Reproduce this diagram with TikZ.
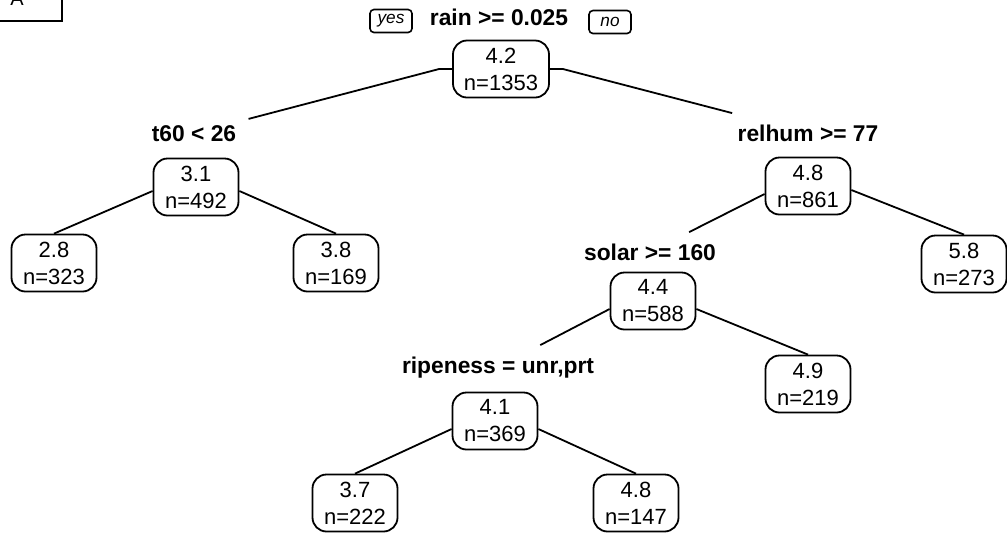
\documentclass[tikz,border=0pt]{standalone}
\usepackage{fontspec}
\setmainfont{Liberation Sans}
\usepackage{tikz}
\usetikzlibrary{positioning, calc}
\tikzset{
  tree_node/.style={rectangle, draw=black, line width=0.9pt, rounded corners=7pt, align=center, inner xsep=5.5pt, inner ysep=3pt, minimum width=42.5pt, minimum height=28.5pt, font=\fontsize{11}{13.5}\selectfont},
  split_label/.style={anchor=base, inner xsep=6pt, inner ysep=5.5pt, font=\fontsize{11.4}{13}\selectfont\bfseries},
  answer_box/.style={rectangle, draw=black, line width=0.8pt, rounded corners=2pt, minimum width=21pt, minimum height=11.5pt, inner sep=1pt, font=\fontsize{8.6}{10}\selectfont\itshape},
  panel_box/.style={rectangle, draw=black, line width=0.9pt, minimum width=40pt, minimum height=20pt},
  branch/.style={-, line width=0.9pt, black}
}

\begin{document}
\begin{tikzpicture}[x=0.5pt, y=-0.5pt]

  % --- Page frame ---
  \useasboundingbox (0,0) rectangle (1007,538);

  % --- Panel tag ---
  \node[panel_box, anchor=south east] (panel) at (63,22) {};
  \node[anchor=base, font=\fontsize{10}{12}\selectfont] (panel_lab) at (17,5) {A};

  % --- Root split ---
  \node[tree_node] (root) at (501,69) {4.2\\n=1353};
  \node[split_label] (rain_lab) at (499,25) {rain >= 0.025};
  \node[answer_box] (yes_box) at (391,21) {yes};
  \node[answer_box] (no_box) at (610,22) {no};

  % --- Level 1 ---
  \node[tree_node] (t60) at (196,187) {3.1\\n=492};
  \node[split_label] (t60_lab) at (194,141) {t60 < 26};

  \node[tree_node] (relhum) at (808,186) {4.8\\n=861};
  \node[split_label] (relhum_lab) at (808,141) {relhum >= 77};

  % --- Level 2 ---
  \node[tree_node] (leaf_a) at (54,263) {2.8\\n=323};
  \node[tree_node] (leaf_b) at (336,263) {3.8\\n=169};
  \node[tree_node] (leaf_c) at (964,264) {5.8\\n=273};

  \node[tree_node] (solar) at (653,301) {4.4\\n=588};
  \node[split_label] (solar_lab) at (650,260) {solar >= 160};

  % --- Level 3 ---
  \node[tree_node] (leaf_d) at (808,384) {4.9\\n=219};

  \node[tree_node] (ripe) at (495,421) {4.1\\n=369};
  \node[split_label] (ripe_lab) at (498,373) {ripeness = unr,prt};

  % --- Level 4 ---
  \node[tree_node] (leaf_e) at (355,503) {3.7\\n=222};
  \node[tree_node] (leaf_f) at (636,503) {4.8\\n=147};

  % --- Branches ---
  \draw[branch] (root.west) -- ++(-13,0) -- (t60_lab);
  \draw[branch] (root.east) -- ++(13,0) -- (relhum_lab);
  \draw[branch] ([yshift=-2pt]t60.west) -- (leaf_a.north);
  \draw[branch] ([yshift=-2pt]t60.east) -- (leaf_b.north);
  \draw[branch] ([yshift=-4pt]relhum.west) -- (solar_lab);
  \draw[branch] ([yshift=-2pt]relhum.east) -- (leaf_c.north);
  \draw[branch] ([yshift=-4pt]solar.west) -- (ripe_lab);
  \draw[branch] ([yshift=-4pt]solar.east) -- (leaf_d.north);
  \draw[branch] ([yshift=-4pt]ripe.west) -- (leaf_e.north);
  \draw[branch] ([yshift=-4pt]ripe.east) -- (leaf_f.north);

\end{tikzpicture}
\end{document}
